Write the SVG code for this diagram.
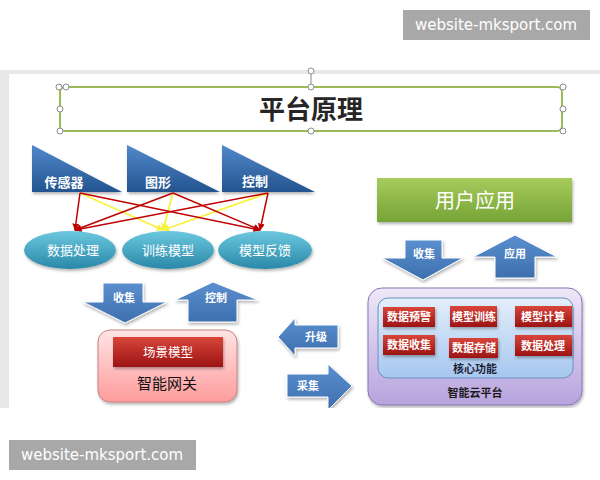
<svg xmlns="http://www.w3.org/2000/svg" width="600" height="480" viewBox="0 0 600 480">
<defs>
<style>
text{font-family:"Noto Sans CJK SC","Liberation Sans",sans-serif;text-anchor:middle}
.wm{fill:#a8a8a8}
.wmt{fill:#fff;font-family:"DejaVu Sans","Liberation Sans",sans-serif;font-size:15px}
.tri{fill:url(#gTri);filter:url(#sh)}
.tt{fill:#fff;font-weight:bold;font-size:13px}
.ell{fill:url(#gEll);filter:url(#sh)}
.et{fill:#fff;font-size:13px}
.ba{fill:url(#gBlue);stroke:#fff;stroke-width:1;filter:url(#sh)}
.bt{fill:#fff;font-weight:bold;font-size:11px}
.rb{fill:url(#gRed);filter:url(#sh)}
.rt{fill:#fff;font-weight:bold;font-size:11px}
.red{stroke:#c00000;stroke-width:1.5;fill:none;marker-end:url(#mR)}
.yel{stroke:#f8f23c;stroke-width:1.8;fill:none;marker-end:url(#mY)}
.hd{fill:#fff;stroke:#8a8a8a;stroke-width:1}
</style>
<filter id="sh" x="-20%" y="-20%" width="140%" height="150%"><feDropShadow dx="1" dy="2" stdDeviation="1.5" flood-color="#000" flood-opacity="0.3"/></filter>
<linearGradient id="gTri" x1="0" y1="0" x2="0" y2="1"><stop offset="0" stop-color="#5288cc"/><stop offset="1" stop-color="#23548f"/></linearGradient>
<linearGradient id="gEll" x1="0" y1="0" x2="0" y2="1"><stop offset="0" stop-color="#6cc8df"/><stop offset="1" stop-color="#2a88a8"/></linearGradient>
<linearGradient id="gBlue" x1="0" y1="0" x2="0" y2="1"><stop offset="0" stop-color="#5b8fcf"/><stop offset="1" stop-color="#3d6fae"/></linearGradient>
<linearGradient id="gRed" x1="0" y1="0" x2="0" y2="1"><stop offset="0" stop-color="#d8453a"/><stop offset="1" stop-color="#9c1414"/></linearGradient>
<linearGradient id="gPink" x1="0" y1="0" x2="0" y2="1"><stop offset="0" stop-color="#ffe4e4"/><stop offset="1" stop-color="#ff9c9c"/></linearGradient>
<linearGradient id="gGreen" x1="0" y1="0" x2="0" y2="1"><stop offset="0" stop-color="#a6cb5c"/><stop offset="1" stop-color="#76a436"/></linearGradient>
<linearGradient id="gPur" x1="0" y1="0" x2="0" y2="1"><stop offset="0" stop-color="#eee8f8"/><stop offset="1" stop-color="#b7a3dd"/></linearGradient>
<linearGradient id="gCore" x1="0" y1="0" x2="0" y2="1"><stop offset="0" stop-color="#e4effb"/><stop offset="1" stop-color="#a6c7ee"/></linearGradient>
<marker id="mR" viewBox="0 0 10 10" refX="9" refY="5" markerWidth="7" markerHeight="7" orient="auto-start-reverse" markerUnits="userSpaceOnUse"><path d="M0,0 L10,5 L0,10 z" fill="#c00000"/></marker>
<marker id="mY" viewBox="0 0 10 10" refX="9" refY="5" markerWidth="7" markerHeight="7" orient="auto-start-reverse" markerUnits="userSpaceOnUse"><path d="M0,0 L10,5 L0,10 z" fill="#f8f23c"/></marker>
<clipPath id="slide"><rect x="9" y="74" width="591" height="334"/></clipPath>
</defs>
<rect width="600" height="480" fill="#fff"/>
<rect x="0" y="70" width="600" height="4" fill="#e8e8e8"/>
<rect x="0" y="70" width="9" height="338" fill="#e8e8e8"/>
<g id="watermark-top"><rect class="wm" x="403" y="10" width="187" height="30"/><text class="wmt" x="496" y="30">website-mksport.com</text></g>
<g id="watermark-bottom"><rect class="wm" x="9" y="440" width="187" height="30"/><text class="wmt" x="102" y="460">website-mksport.com</text></g>
<g clip-path="url(#slide)">
<g id="title">
<rect x="60" y="87" width="502" height="44" rx="5" fill="#fff" stroke="#9bbb59" stroke-width="2"/>
<text x="311" y="119" font-size="26" font-weight="bold" fill="#262626">平台原理</text>
</g>
</g>
<g id="title-handles">
<line x1="311" y1="72" x2="311" y2="87" stroke="#8a8a8a"/>
<circle class="hd" cx="311" cy="71" r="3"/>
<circle class="hd" cx="59" cy="87" r="3"/><circle class="hd" cx="66" cy="87" r="3"/>
<circle class="hd" cx="311" cy="87" r="3"/><circle class="hd" cx="563" cy="87" r="3"/>
<circle class="hd" cx="60" cy="109" r="3"/><circle class="hd" cx="563" cy="109" r="3"/>
<circle class="hd" cx="60" cy="131" r="3"/><circle class="hd" cx="311" cy="131" r="3"/><circle class="hd" cx="563" cy="131" r="3"/>
</g>
<g clip-path="url(#slide)">
<g id="tri-sensor"><path class="tri" d="M32,145 V192 H122 Z"/><text class="tt" x="64" y="187">传感器</text></g>
<g id="tri-graphics"><path class="tri" d="M127,145 V192 H220 Z"/><text class="tt" x="158" y="187">图形</text></g>
<g id="tri-control"><path class="tri" d="M222,145 V192 H315 Z"/><text class="tt" x="255" y="186" font-size="10.5">控制</text></g>
<g id="connectors">
<path class="yel" d="M80,193 L163,230"/>
<path class="yel" d="M173,193 L163,230"/>
<path class="yel" d="M268,193 L163,230"/>
<path class="red" d="M80,193 L75,230"/>
<path class="red" d="M80,193 L260,230"/>
<path class="red" d="M173,193 L75,230"/>
<path class="red" d="M173,193 L260,230"/>
<path class="red" d="M268,193 L75,230"/>
<path class="red" d="M268,193 L260,230"/>
</g>
<g id="ell-data"><ellipse class="ell" cx="70" cy="250" rx="46" ry="19"/><text class="et" x="73" y="255">数据处理</text></g>
<g id="ell-train"><ellipse class="ell" cx="168" cy="250" rx="46" ry="19"/><text class="et" x="168" y="255">训练模型</text></g>
<g id="ell-feedback"><ellipse class="ell" cx="265" cy="250" rx="47" ry="19"/><text class="et" x="265" y="255">模型反馈</text></g>
<g id="arrow-collect-left"><path class="ba" d="M103,283 H143 V302 H167 L125,323 L83,302 H103 Z"/><text class="bt" x="124" y="302">收集</text></g>
<g id="arrow-control"><path class="ba" d="M213,282 L258,300 H237 V322 H188 V300 H175 Z"/><text class="bt" x="216" y="302">控制</text></g>
<g id="gateway">
<rect x="98" y="330" width="139" height="72" rx="12" fill="url(#gPink)" stroke="#c98080" stroke-width="1" filter="url(#sh)"/>
<rect class="rb" x="113" y="337" width="110" height="30"/>
<text x="168" y="357" fill="#fff" font-size="12.5">场景模型</text>
<text x="167" y="389" fill="#111" font-size="15">智能网关</text>
</g>
<g id="arrow-upgrade"><path class="ba" d="M278,337 L295,318 V325 H338 V348 H295 V356 Z"/><text class="bt" x="316" y="341">升级</text></g>
<g id="arrow-acquire"><path class="ba" d="M287,374 H328 V364 L352,386 L328,410 V397 H287 Z"/><text class="bt" x="308" y="390">采集</text></g>
<g id="user-app"><rect x="377" y="178" width="195" height="44" fill="url(#gGreen)" filter="url(#sh)"/><text x="475" y="208" fill="#fff" font-size="20">用户应用</text></g>
<g id="arrow-collect-right"><path class="ba" d="M405,240 H442 V258 H463 L423,280 L382,258 H405 Z"/><text class="bt" x="424" y="258">收集</text></g>
<g id="arrow-apply"><path class="ba" d="M515,235 L557,257 H535 V278 H495 V257 H473 Z"/><text class="bt" x="515" y="258">应用</text></g>
<g id="cloud">
<rect x="368" y="288" width="214" height="117" rx="14" fill="url(#gPur)" stroke="#8a74b8" stroke-width="1" filter="url(#sh)"/>
<rect x="378" y="298" width="195" height="80" rx="10" fill="url(#gCore)" stroke="#6a8fc0" stroke-width="1"/>
<text x="475" y="373" font-size="11" font-weight="bold" fill="#1f1f3a">核心功能</text>
<text x="475" y="397" font-size="11" font-weight="bold" fill="#1a1a1a">智能云平台</text>
</g>
<g id="f-warn"><rect class="rb" x="383" y="307" width="52" height="20"/><text class="rt" x="409" y="321">数据预警</text></g>
<g id="f-train"><rect class="rb" x="450" y="306" width="47" height="21"/><text class="rt" x="474" y="321">模型训练</text></g>
<g id="f-calc"><rect class="rb" x="515" y="306" width="57" height="21"/><text class="rt" x="543" y="321">模型计算</text></g>
<g id="f-collect"><rect class="rb" x="383" y="335" width="52" height="20"/><text class="rt" x="409" y="349">数据收集</text></g>
<g id="f-store"><rect class="rb" x="449" y="338" width="49" height="20"/><text class="rt" x="474" y="352">数据存储</text></g>
<g id="f-process"><rect class="rb" x="515" y="335" width="57" height="21"/><text class="rt" x="543" y="350">数据处理</text></g>
</g>
</svg>
